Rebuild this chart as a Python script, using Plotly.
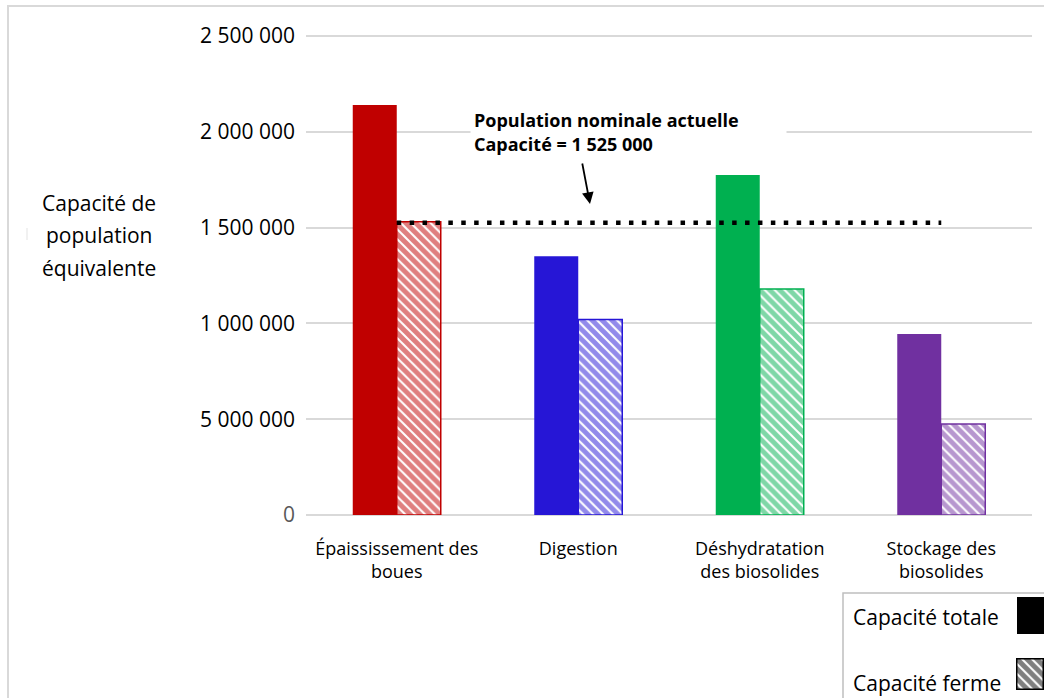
import plotly.graph_objects as go

# Canvas size in pixels
W, H = 1044, 698

# ---- data ----
CATEGORIES = [
    "Épaississement des<br>boues",
    "Digestion",
    "Déshydratation<br>des biosolides",
    "Stockage des<br>biosolides",
]
CAPACITE_TOTALE = [2140000, 1350000, 1775000, 945000]
CAPACITE_FERME = [1530000, 1020000, 1180000, 475000]
COULEURS = ["#C00000", "#2616D6", "#00B050", "#7030A0"]
NOMINALE = 1525000

Y_TICK_VALUES = [0, 500000, 1000000, 1500000, 2000000, 2500000]
Y_TICK_LABELS = ["0", "5 000 000", "1 000 000", "1 500 000", "2 000 000", "2 500 000"]
Y_TITLE_LINES = ["Capacité de", "population", "équivalente"]
LEGEND_LABELS = ["Capacité totale", "Capacité ferme"]

FONT = "Open Sans"
GRID = "#D9D9D9"


def px(x):
    """pixel column -> paper x"""
    return x / W


def py(y):
    """pixel row -> paper y"""
    return 1 - y / H


def fmt(v):
    return f"{v:,}".replace(",", " ")


# plot area in pixels (top padded a little so the top gridline is kept)
PL, PR, PT, PB = 306, 1032, 36, 515
Y_MAX = 2500000
Y_TOP = 2510000
PT_DOMAIN = PB - (PB - PT) * Y_TOP / Y_MAX

slot = (PR - PL) / len(CATEGORIES)
BAR_W = 44 / slot
idx = list(range(len(CATEGORIES)))

HATCH = dict(shape="\\", size=7, solidity=0.72, fillmode="overlay")

fig = go.Figure()

# Total capacity: solid bars
fig.add_trace(go.Bar(
    x=idx, y=CAPACITE_TOTALE, width=BAR_W, offset=-BAR_W,
    marker=dict(color=COULEURS, line=dict(width=0)),
    name=LEGEND_LABELS[0], showlegend=False, hoverinfo="y",
))

# Firm capacity: hatched bars
fig.add_trace(go.Bar(
    x=idx, y=CAPACITE_FERME, width=BAR_W, offset=0,
    marker=dict(
        color="white",
        line=dict(color=COULEURS, width=1.5),
        pattern=dict(HATCH, fgcolor=COULEURS, bgcolor="white"),
    ),
    name=LEGEND_LABELS[1], showlegend=False, hoverinfo="y",
))

# Current nominal population: dotted reference line
fig.add_trace(go.Scatter(
    x=[idx[0], idx[-1]], y=[NOMINALE, NOMINALE], mode="lines",
    line=dict(color="black", width=4.5, dash="4.5px,8.4px"),
    showlegend=False, hoverinfo="skip",
))

# Hatched legend swatch on its own tiny axes
fig.add_trace(go.Bar(
    x=[0], y=[1], width=1, offset=-0.5, xaxis="x2", yaxis="y2",
    marker=dict(
        color="white",
        line=dict(color="black", width=3),
        pattern=dict(HATCH, fgcolor="black", bgcolor="white"),
    ),
    showlegend=False, hoverinfo="skip",
))

y_ticktext = [
    "<span style='color:#595959'>%s</span>" % t if v == 0 else t
    for v, t in zip(Y_TICK_VALUES, Y_TICK_LABELS)
]

annotations = []
for i, line in enumerate(Y_TITLE_LINES):
    annotations.append(dict(
        text=line, x=px(99), y=py(203 + 32.5 * i), xref="paper", yref="paper",
        xanchor="center", yanchor="middle", showarrow=False,
        font=dict(family=FONT, size=21, color="black"),
    ))

for lab, yy in zip(LEGEND_LABELS, [617, 683]):
    annotations.append(dict(
        text=lab, x=px(851), y=py(yy), xref="paper", yref="paper",
        xanchor="left", yanchor="middle", showarrow=False,
        font=dict(family=FONT, size=21, color="black"),
    ))

# Callout box for the nominal capacity
annotations.append(dict(
    text="<b>Population nominale actuelle<br>Capacité = %s</b>" % fmt(NOMINALE),
    x=px(470), y=py(105), xref="paper", yref="paper",
    xanchor="left", yanchor="top", showarrow=False,
    width=309, height=46, align="left", valign="middle",
    bgcolor="white", borderpad=3,
    font=dict(family=FONT, size=18, color="black"),
))

# Arrow pointing at the dotted line
annotations.append(dict(
    text="", x=px(590), y=py(204), xref="paper", yref="paper",
    showarrow=True, ax=-8, ay=-42, arrowhead=2, arrowsize=1.3,
    arrowwidth=1.8, arrowcolor="black", standoff=0,
))

shapes = [
    # outer chart frame
    dict(type="rect", xref="paper", yref="paper",
         x0=px(8), x1=1.05, y0=-0.05, y1=py(6),
         line=dict(color=GRID, width=2), fillcolor="rgba(0,0,0,0)", layer="below"),
    # legend frame
    dict(type="rect", xref="paper", yref="paper",
         x0=px(843), x1=1.05, y0=-0.05, y1=py(593),
         line=dict(color="#BFBFBF", width=1.5), fillcolor="white", layer="below"),
    # solid legend swatch
    dict(type="rect", xref="paper", yref="paper",
         x0=px(1017), x1=1.03, y0=py(634), y1=py(597),
         line=dict(width=0), fillcolor="black"),
    # small mark near the axis title
    dict(type="line", xref="paper", yref="paper",
         x0=px(27), x1=px(27), y0=py(240), y1=py(228),
         line=dict(color="#E3E3E3", width=1)),
]

fig.update_layout(
    width=W, height=H,
    margin=dict(l=0, r=0, t=0, b=0),
    template="none",
    paper_bgcolor="white", plot_bgcolor="white",
    barmode="overlay",
    showlegend=False,
    font=dict(family=FONT, color="black"),
    xaxis=dict(
        domain=[px(PL), px(PR)], range=[-0.5, len(CATEGORIES) - 0.5],
        tickmode="array", tickvals=idx, ticktext=CATEGORIES,
        showgrid=False, zeroline=False, showline=False, ticks="",
        ticklabelstandoff=21,
        tickfont=dict(family=FONT, size=18, color="black"),
        automargin=False, fixedrange=True,
    ),
    yaxis=dict(
        domain=[py(PB), py(PT_DOMAIN)], range=[0, Y_TOP],
        tickmode="array", tickvals=Y_TICK_VALUES, ticktext=y_ticktext,
        showgrid=True, gridcolor=GRID, gridwidth=1.5,
        zeroline=True, zerolinecolor=GRID, zerolinewidth=1.5,
        showline=False, ticks="",
        ticklabelstandoff=10,
        tickfont=dict(family=FONT, size=21, color="black"),
        automargin=False, fixedrange=True,
    ),
    xaxis2=dict(domain=[px(1016), 1], range=[-0.5, 0.5], visible=False,
                anchor="y2", fixedrange=True),
    yaxis2=dict(domain=[py(690), py(658)], range=[0, 1], visible=False,
                anchor="x2", fixedrange=True),
    annotations=annotations,
    shapes=shapes,
)

fig.write_html("out.html")
